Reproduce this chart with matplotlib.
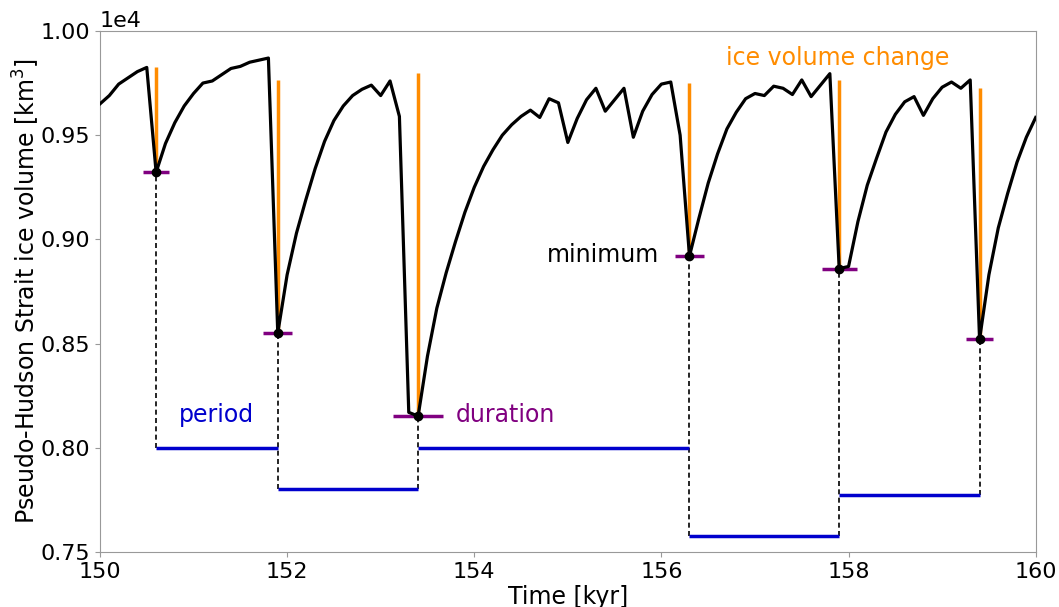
import numpy as np
import matplotlib
matplotlib.use("Agg")
import matplotlib.pyplot as plt

# ice volume time series (0.1 kyr steps)
time = np.round(np.arange(150.0, 160.01, 0.1), 1)
volume = [
    9650, 9690, 9745, 9775, 9805, 9825, 9322, 9460, 9560, 9640,
    9700, 9750, 9760, 9790, 9820, 9830, 9850, 9860, 9870, 8550,
    8830, 9030, 9190, 9340, 9470, 9570, 9640, 9690, 9720, 9740,
    9690, 9760, 9590, 8170, 8152, 8440, 8670, 8840, 8990, 9130,
    9250, 9350, 9430, 9500, 9550, 9590, 9620, 9585, 9675, 9655,
    9465, 9580, 9670, 9725, 9615, 9670, 9725, 9490, 9615, 9695,
    9745, 9755, 9500, 8920, 9100, 9270, 9410, 9530, 9610, 9675,
    9700, 9690, 9735, 9725, 9695, 9765, 9685, 9740, 9795, 8860,
    8870, 9085, 9260, 9390, 9515, 9600, 9660, 9685, 9595, 9675,
    9730, 9755, 9725, 9765, 8520, 8830, 9055, 9220, 9370, 9490,
    9585,
]

# events
min_time = [150.6, 151.9, 153.4, 156.3, 157.9, 159.4]
min_vol = [9322, 8550, 8152, 8920, 8860, 8520]
change_top = [9827, 9765, 9797, 9752, 9765, 9725]
duration = [0.28, 0.31, 0.54, 0.32, 0.37, 0.29]
period_level = [8000, 7800, 8000, 7575, 7775]

fig = plt.figure(figsize=(10.59, 6.07), dpi=100)
ax = fig.add_axes([0.0944, 0.0906, 0.8836, 0.8584])

# orange: ice volume change
ax.vlines(min_time, min_vol, change_top, color='darkorange', lw=2.5, zorder=2)
# black series
ax.plot(time, volume, color='black', lw=2.3, zorder=3)
# purple: duration
for t, v, d in zip(min_time, min_vol, duration):
    ax.hlines(v, t - d / 2, t + d / 2, color='purple', lw=2.5, zorder=2)
ax.plot(min_time, min_vol, 'o', color='black', ms=6, zorder=4)

# dashed drops + blue periods
for i, t in enumerate(min_time):
    lv = [period_level[j] for j in (i - 1, i) if 0 <= j < len(period_level)]
    ax.vlines(t, min(lv), min_vol[i], color='black', lw=1.2, ls=(0, (3, 2)), zorder=1)
for i, lv in enumerate(period_level):
    ax.hlines(lv, min_time[i], min_time[i + 1], color='mediumblue', lw=2.5, zorder=2)

ax.text(157.88, 9870, 'ice volume change', color='darkorange', fontsize=17, ha='center', va='center')
ax.text(155.98, 8925, 'minimum', color='black', fontsize=17, ha='right', va='center')
ax.text(151.25, 8157, 'period', color='mediumblue', fontsize=17, ha='center', va='center')
ax.text(154.33, 8157, 'duration', color='purple', fontsize=17, ha='center', va='center')

ax.set_xlim(150, 160)
ax.set_ylim(7500, 10000)
ax.set_xticks([150, 152, 154, 156, 158, 160])
ax.ticklabel_format(axis='y', style='sci', scilimits=(0, 0))
ax.yaxis.get_offset_text().set_fontsize(16)
ax.tick_params(labelsize=16, color='#999999')
for s in ax.spines.values():
    s.set_color('#999999')
ax.set_xlabel('Time [kyr]', fontsize=17, labelpad=2)
ax.set_ylabel('Pseudo-Hudson Strait ice volume [km$^3$]', fontsize=17, labelpad=-1)

fig.savefig('out.png', dpi=100)
